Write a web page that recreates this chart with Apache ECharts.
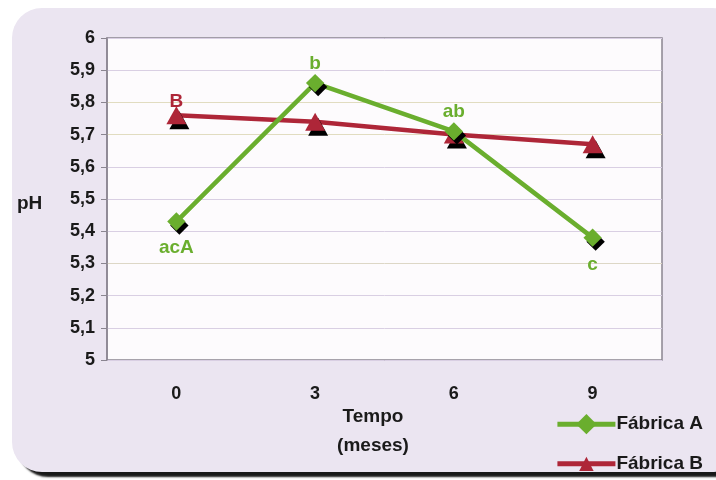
<!DOCTYPE html>
<html>
<head>
<meta charset="utf-8">
<script src="https://cdn.jsdelivr.net/npm/echarts@6/dist/echarts.min.js"></script>
<style>
  html, body { margin: 0; padding: 0; background: #ffffff; }
  #chart { width: 716px; height: 480px; }
</style>
</head>
<body>
<div id="chart"></div>
<script>
// Tempo (meses) e pH de cada fábrica
var months = ['0', '3', '6', '9'];
var phFabricaA = [5.43, 5.86, 5.71, 5.38];
var phFabricaB = [5.76, 5.74, 5.70, 5.67];
var letrasA = ['acA', 'b', 'ab', 'c'];
var letrasB = ['B', '', '', ''];
var yTicks = { min: 5, max: 6, step: 0.1 };

var GREEN = '#6aae2e';
var RED = '#ae2638';
var FONT = '"Liberation Sans", Arial, sans-serif';

// letters sit below a point when it is a local low, above otherwise
function letterPos(values, i) {
  var prev = i > 0 ? values[i - 1] : Infinity;
  var next = i < values.length - 1 ? values[i + 1] : Infinity;
  return (values[i] < prev && values[i] < next) ? 'bottom' : 'top';
}

function buildData(values, letters, color, topDist) {
  return values.map(function (v, i) {
    var pos = letterPos(values, i);
    return {
      value: v,
      label: {
        show: letters[i] !== '',
        formatter: letters[i],
        position: pos,
        distance: pos === 'bottom' ? 8 : topDist,
        color: color,
        fontSize: 19,
        fontWeight: 'bold',
        fontFamily: FONT
      }
    };
  });
}

var chart = echarts.init(document.getElementById('chart'), null, { renderer: 'canvas' });

chart.setOption({
  animation: false,
  backgroundColor: '#ffffff',
  graphic: [
    {
      type: 'rect', z: -10, silent: true,
      shape: { x: 12, y: 8, width: 730, height: 464, r: 30 },
      style: {
        fill: '#ebe5f1',
        shadowColor: 'rgba(0,0,0,0.9)', shadowOffsetX: 6, shadowOffsetY: 5, shadowBlur: 2
      }
    },
    {
      type: 'text', left: 17, top: 194, silent: true,
      style: { text: 'pH', fill: '#1a1a1a', font: 'bold 19px ' + FONT }
    },
    {
      type: 'text', silent: true, x: 373, y: 402,
      style: {
        text: 'Tempo\n(meses)', fill: '#1a1a1a', font: 'bold 19px ' + FONT,
        align: 'center', lineHeight: 29
      }
    }
  ],
  grid: {
    left: 107, right: 54, top: 38, bottom: 120,
    show: true, backgroundColor: '#fdfbfd', borderColor: '#8a8590', borderWidth: 1.5
  },
  legend: {
    orient: 'vertical', right: 8, top: 409, itemGap: 20,
    itemWidth: 58, itemHeight: 18,
    lineStyle: { width: 5 },
    textStyle: { color: '#1a1a1a', fontSize: 19, fontWeight: 'bold', fontFamily: FONT, padding: [0, 0, 0, -4] },
    data: ['Fábrica A', 'Fábrica B']
  },
  xAxis: {
    type: 'category',
    data: months,
    boundaryGap: true,
    axisLine: { show: false },
    axisTick: { show: false },
    axisLabel: { color: '#1a1a1a', fontSize: 18, fontWeight: 'bold', fontFamily: FONT, margin: 25 }
  },
  yAxis: {
    type: 'value',
    min: yTicks.min, max: yTicks.max, interval: yTicks.step,
    axisLine: { show: true, lineStyle: { color: '#8a8590', width: 1.5 } },
    axisTick: { show: true, length: 6, inside: false, lineStyle: { color: '#8a8590' } },
    splitLine: { show: true, lineStyle: { color: ['#d9cfe3', '#d9cfe3', '#d9cfe3', '#ddd7c6', '#d9cfe3', '#d9cfe3', '#d9cfe3', '#e1dcc0', '#e1dcc0', '#d9cfe3'], width: 1 } },
    axisLabel: {
      color: '#1a1a1a', fontSize: 18, fontWeight: 'bold', fontFamily: FONT, margin: 12,
      formatter: function (v) { return (Math.round(v * 10) / 10).toString().replace('.', ','); }
    }
  },
  series: [
    {
      name: 'Fábrica B',
      type: 'line',
      data: buildData(phFabricaB, letrasB, RED, -5),
      symbol: 'triangle', symbolSize: [20, 18],
      lineStyle: { color: RED, width: 4.5 },
      itemStyle: { color: RED, shadowColor: '#000', shadowOffsetX: 3, shadowOffsetY: 5, shadowBlur: 0 },
      z: 2
    },
    {
      name: 'Fábrica A',
      type: 'line',
      data: buildData(phFabricaA, letrasA, GREEN, 1),
      symbol: 'rect', symbolSize: 13, symbolRotate: 45,
      lineStyle: { color: GREEN, width: 4.5 },
      itemStyle: { color: GREEN, shadowColor: '#000', shadowOffsetX: 3, shadowOffsetY: 4, shadowBlur: 0 },
      z: 3
    }
  ]
});
</script>
</body>
</html>
